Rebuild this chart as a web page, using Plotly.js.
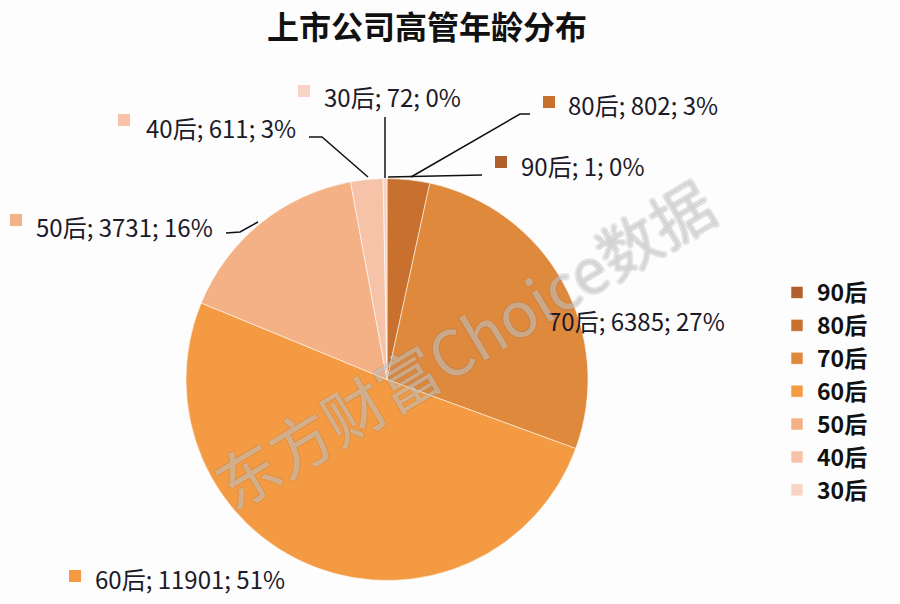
<!DOCTYPE html>
<html><head><meta charset="utf-8">
<script src="https://cdn.plot.ly/plotly-3.0.1.min.js"></script>
<style>html,body{margin:0;padding:0;background:#fff}#chart{width:900px;height:604px}</style>
</head><body><div id="chart"></div>
<script>
// ---- data ----
const categories = ['90后','80后','70后','60后','50后','40后','30后'];
const counts = [1, 802, 6385, 11901, 3731, 611, 72];
const titleText = '上市公司高管年龄分布';
const watermarkText = '东方财富Choice数据';

// ---- styles ----
const sliceColors = ['#b0602c','#c8712f','#df893c','#f39a42','#f5b186','#f7c3a8','#f9d3c6'];
const FONT = '"Noto Sans CJK SC", "Noto Sans", sans-serif';
const W = 900, H = 604;
const px = x => x / W;
const py = y => 1 - y / H;

// label placement (pixel positions of the data-label boxes and leader lines)
const labelPos = {
  '90后': {mx: 495, my: 156, tx: 519, ty: 165, line: [[388,177],[482,175]]},
  '80后': {mx: 543, my: 96,  tx: 566, ty: 105, line: [[411,177],[520,114],[530,114]]},
  '70后': {mx: 531, my: 311, tx: 546, ty: 320, line: null},
  '60后': {mx: 69,  my: 570, tx: 93,  ty: 578, line: null},
  '50后': {mx: 10,  my: 214, tx: 34,  ty: 226, line: [[226,233],[240,232],[258,222]]},
  '40后': {mx: 118, my: 114, tx: 144, ty: 127, line: [[309,137],[322,137],[368,177]]},
  '30后': {mx: 298, my: 85,  tx: 322, ty: 96,  line: [[385,117],[385,178]]}
};

const total = counts.reduce((a, b) => a + b, 0);
const annotations = [];
const shapes = [];

categories.forEach((c, i) => {
  const p = labelPos[c];
  const pct = Math.round(counts[i] / total * 100);
  annotations.push({
    xref: 'paper', yref: 'paper', x: px(p.tx), y: py(p.ty),
    xanchor: 'left', yanchor: 'middle', showarrow: false,
    text: c + '; ' + counts[i] + '; ' + pct + '%',
    font: {family: FONT, size: 24, color: '#1c1a28'}
  });
  shapes.push({
    type: 'rect', xref: 'paper', yref: 'paper', layer: 'above',
    x0: px(p.mx), x1: px(p.mx + 12), y0: py(p.my), y1: py(p.my + 12),
    fillcolor: sliceColors[i], line: {width: 0}
  });
  if (p.line) {
    const d = p.line.map((pt, k) => (k ? 'L' : 'M') + px(pt[0]) + ',' + py(pt[1])).join(' ');
    shapes.push({type: 'path', xref: 'paper', yref: 'paper', layer: 'above',
      path: d, line: {color: '#111', width: 1.5}});
  }
});

annotations.push({
  xref: 'paper', yref: 'paper', x: px(463), y: py(342),
  xanchor: 'center', yanchor: 'middle', showarrow: false,
  text: watermarkText, textangle: -31,
  font: {family: FONT, size: 62, color: 'rgba(255,255,255,0.3)',
         shadow: '1px 1px 0 rgba(130,130,130,0.5), -1px -1px 0 rgba(130,130,130,0.5), 1px -1px 0 rgba(130,130,130,0.5), -1px 1px 0 rgba(130,130,130,0.5)'}
});

const trace = {
  type: 'pie',
  labels: categories,
  values: counts,
  sort: false,
  direction: 'clockwise',
  rotation: 0,
  textinfo: 'none',
  textposition: 'none',
  hoverinfo: 'label+value+percent',
  marker: {colors: sliceColors, line: {color: 'rgba(255,255,255,0.55)', width: 1}},
  domain: {x: [px(186), px(588)], y: [py(581), py(178)]}
};

const layout = {
  width: W, height: H,
  margin: {l: 0, r: 0, t: 0, b: 0},
  paper_bgcolor: '#fdfdfd',
  title: {
    text: titleText, x: px(427), xanchor: 'center', y: py(28), yanchor: 'middle',
    font: {family: FONT, size: 32, color: '#111', weight: 'bold'}
  },
  showlegend: true,
  legend: {
    x: px(777), xanchor: 'left', y: py(271), yanchor: 'top',
    font: {family: FONT, size: 23, color: '#111', weight: 'bold'},
    bgcolor: 'rgba(0,0,0,0)', itemwidth: 30, traceorder: 'normal'
  },
  annotations: annotations,
  shapes: shapes
};

Plotly.newPlot('chart', [trace], layout, {displayModeBar: false, staticPlot: true});
</script>
</body></html>
